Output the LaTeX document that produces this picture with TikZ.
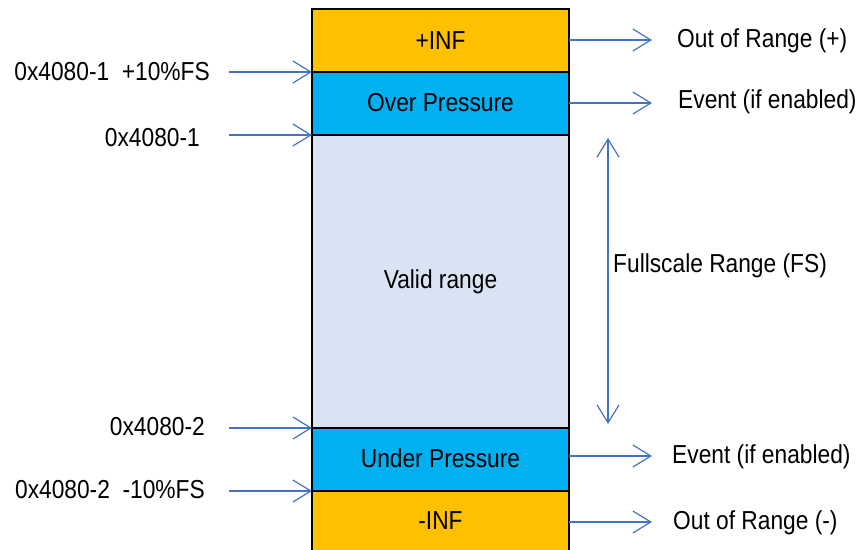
\documentclass[tikz,border=0pt]{standalone}
\usepackage{fontspec}
\newfontfamily\diafont{Liberation Sans}[FakeStretch=0.875]
\usetikzlibrary{arrows.meta,positioning}
\definecolor{infcol}{HTML}{FFC000}
\definecolor{prescol}{HTML}{00B0F0}
\definecolor{validcol}{HTML}{DAE3F3}
\definecolor{arrcol}{HTML}{4472C4}

\begin{document}
\begin{tikzpicture}[x=1pt,y=-1pt,
		band/.style={draw=black,line width=1.3pt,minimum width=257pt,inner sep=0pt,outer sep=0pt,font=\diafont\fontsize{26}{30}\selectfont},
		lbl/.style={inner sep=0pt,font=\diafont\fontsize{26}{30}\selectfont},
		arr/.style={-{Straight Barb[length=18pt,width=22pt]},arrcol,line width=1.2pt},
		darr/.style={{Straight Barb[length=18pt,width=22pt]}-{Straight Barb[length=18pt,width=22pt]},arrcol,line width=1.2pt}]
	\useasboundingbox (0,0) rectangle (858,549);

	% column of ranges
	\node[band,fill=infcol,minimum height=63pt,anchor=north] (pinf) at (440.5,9) {+INF};
	\node[band,fill=prescol,minimum height=63pt,below=0pt of pinf] (ovp) {\raisebox{3pt}{Over Pressure}};
	\node[band,fill=validcol,minimum height=293pt,below=0pt of ovp] (valid) {\raisebox{3pt}{Valid range}};
	\node[band,fill=prescol,minimum height=63pt,below=0pt of valid] (unp) {\raisebox{3pt}{Under Pressure}};
	\node[band,fill=infcol,minimum height=60pt,below=0pt of unp] (minf) {-INF};

	% register values on the left
	\coordinate (l1) at (229,72);
	\coordinate (l2) at (229,135);
	\coordinate (l3) at (229,428);
	\coordinate (l4) at (229,491);
	\node[lbl,anchor=east] (ovpval) at (210,72) {0x4080-1\ \ +10\%FS};
	\node[lbl,anchor=east] (fsmax) at (200,138) {0x4080-1};
	\node[lbl,anchor=east] (fsmin) at (205,427) {0x4080-2};
	\node[lbl,anchor=east] (unpval) at (205,490) {0x4080-2\ \ -10\%FS};

	\draw[arr] (l1) -- (ovp.north west);
	\draw[arr] (l2) -- (valid.north west);
	\draw[arr] (l3) -- (unp.north west);
	\draw[arr] (l4) -- (minf.north west);

	% results on the right
	\coordinate (r1) at (652,40);
	\coordinate (r2) at (652,103);
	\coordinate (r3) at (652,456);
	\coordinate (r4) at (652,522);
	\node[lbl,anchor=west] (oorp) at (677,41) {Out of Range (+)};
	\node[lbl,anchor=west] (evtup) at (678,102) {Event (if enabled)};
	\node[lbl,anchor=west] (evtdn) at (672,457) {Event (if enabled)};
	\node[lbl,anchor=west] (oorm) at (673,523) {Out of Range (-)};

	\draw[arr] (pinf.east |- r1) -- (r1);
	\draw[arr] (ovp.east |- r2) -- (r2);
	\draw[arr] (unp.east |- r3) -- (r3);
	\draw[arr] (minf.east |- r4) -- (r4);

	% fullscale span
	\coordinate (fstop) at (608,138);
	\coordinate (fsbot) at (608,424);
	\draw[darr] (fstop) -- (fsbot);
	\node[lbl,anchor=west] (fsr) at (613,266) {Fullscale Range (FS)};
\end{tikzpicture}
\end{document}
